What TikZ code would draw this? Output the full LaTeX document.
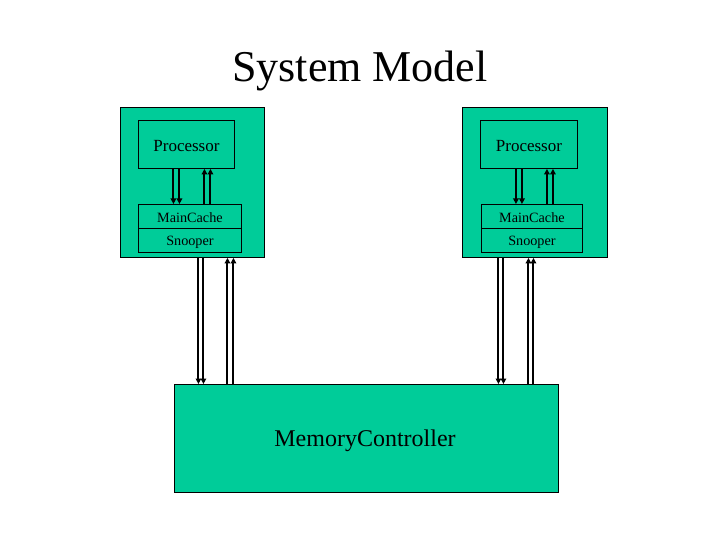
\documentclass[tikz,border=0pt]{standalone}
\usepackage{fontspec}
\setmainfont{Liberation Serif}
\usetikzlibrary{arrows.meta}
\definecolor{boxgreen}{RGB}{0,204,153}
\begin{document}
\begin{tikzpicture}[x=1pt,y=-1pt,
  box/.style={draw=black,line width=0.9pt,fill=boxgreen,inner sep=0pt,anchor=north west},
  lbl/.style={anchor=center,inner sep=0pt},
  arr/.style={draw=black,line width=2pt,-{Triangle[length=5.5pt,width=5.5pt]}}]
\useasboundingbox[fill=white] (0,0) rectangle (720,540);
\node[anchor=center,font=\fontsize{44}{44}\selectfont] (title) at (360,71) {System Model};
% left group
\node[box,minimum width=144pt,minimum height=150pt] (outL) at (120,107) {};
\node[box,minimum width=96pt,minimum height=48pt] (procL) at (138,120) {};
\node[box,minimum width=103pt,minimum height=24pt] (cacheL) at (138,204) {};
\node[box,minimum width=103pt,minimum height=24pt] (snoopL) at (138,228) {};
% right group
\node[box,minimum width=145pt,minimum height=150pt] (outR) at (462,107) {};
\node[box,minimum width=97pt,minimum height=48pt] (procR) at (480,120) {};
\node[box,minimum width=101pt,minimum height=24pt] (cacheR) at (481,204) {};
\node[box,minimum width=101pt,minimum height=24pt] (snoopR) at (481,228) {};
% labels
\foreach \n in {procL,procR}{
  \node[lbl,font=\fontsize{17}{17}\selectfont] (\n t) at ([yshift=-1.5pt]\n.center) {Processor};}
\foreach \n in {cacheL,cacheR}{
  \node[lbl,font=\fontsize{14.2}{14}\selectfont] (\n t) at ([yshift=-1pt]\n.center) {MainCache};}
\foreach \n in {snoopL,snoopR}{
  \node[lbl,font=\fontsize{14.2}{14}\selectfont] (\n t) at ([yshift=-2pt]\n.center) {Snooper};}
% memory
\node[box,minimum width=384pt,minimum height=108pt] (mem) at (174,384) {};
\node[font=\fontsize{24}{24}\selectfont] (memtext) at (365,441) {MemoryController};
% processor <-> cache arrows
\foreach \p/\c in {procL/cacheL,procR/cacheR}{
  \draw[arr] ([xshift=-13pt]\p.south) -- ([xshift=-13pt]\p.south |- \c.north);
  \draw[arr] ([xshift=-7pt]\p.south) -- ([xshift=-7pt]\p.south |- \c.north);
  \draw[arr] ([xshift=18pt]\p.south |- \c.north) -- ([xshift=18pt]\p.south);
  \draw[arr] ([xshift=24pt]\p.south |- \c.north) -- ([xshift=24pt]\p.south);
}
% outer <-> memory arrows
\draw[arr] ([xshift=6pt]outL.south) -- ([xshift=6pt]outL.south |- mem.north);
\draw[arr] ([xshift=11pt]outL.south) -- ([xshift=11pt]outL.south |- mem.north);
\draw[arr] ([xshift=35pt]outL.south |- mem.north) -- ([xshift=35pt]outL.south);
\draw[arr] ([xshift=41pt]outL.south |- mem.north) -- ([xshift=41pt]outL.south);
\draw[arr] ([xshift=-36.5pt]outR.south) -- ([xshift=-36.5pt]outR.south |- mem.north);
\draw[arr] ([xshift=-31.5pt]outR.south) -- ([xshift=-31.5pt]outR.south |- mem.north);
\draw[arr] ([xshift=-6.5pt]outR.south |- mem.north) -- ([xshift=-6.5pt]outR.south);
\draw[arr] ([xshift=-1.5pt]outR.south |- mem.north) -- ([xshift=-1.5pt]outR.south);
\end{tikzpicture}
\end{document}
